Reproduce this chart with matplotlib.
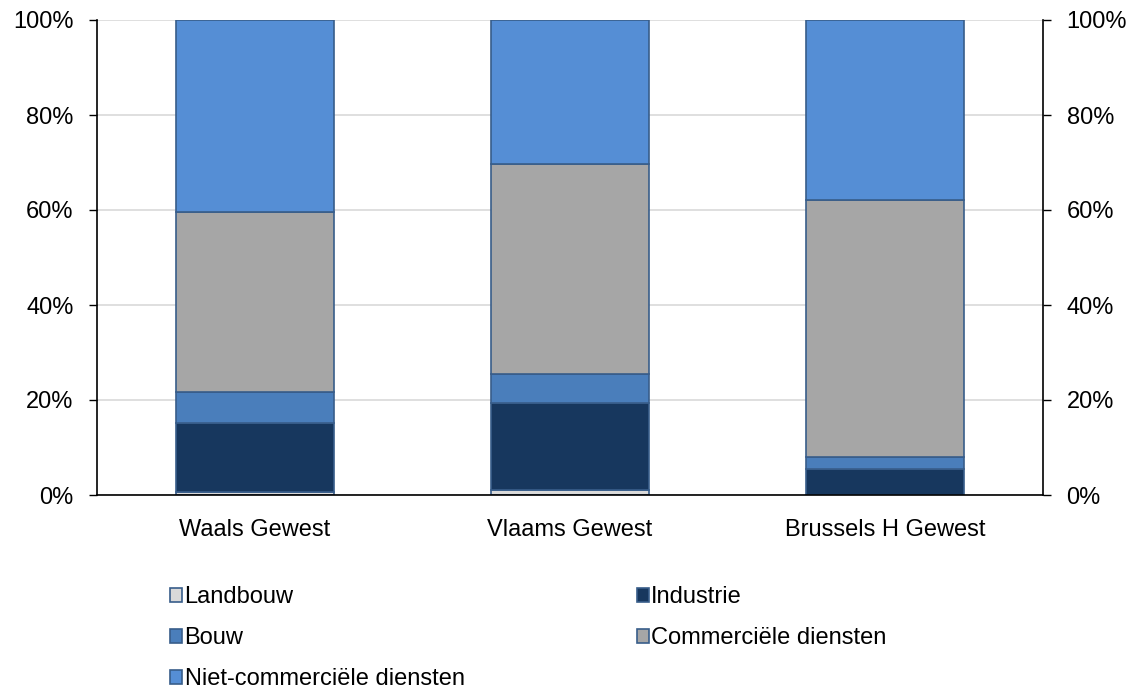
import matplotlib.pyplot as plt
import numpy as np

plt.rcParams['font.family'] = ['Liberation Sans', 'DejaVu Sans']

regions = ['Waals Gewest', 'Vlaams Gewest', 'Brussels H Gewest']
sectors = ['Landbouw', 'Industrie', 'Bouw', 'Commerciële diensten', 'Niet-commerciële diensten']
landbouw = [0.6, 1.0, 0.1]
industrie = [14.5, 18.4, 5.3]
bouw = [6.5, 6.1, 2.7]
commercieel = [38.0, 44.2, 54.0]
niet_commercieel = [40.4, 30.3, 37.9]

colors = ['#D9D9D9', '#17375E', '#4A7EBB', '#A6A6A6', '#558ED5']
series = [landbouw, industrie, bouw, commercieel, niet_commercieel]

fig = plt.figure(figsize=(11.39, 6.90), dpi=100)
ax = fig.add_axes([97/1139, 1 - 495/690, 946/1139, 475/690])

x = np.arange(len(regions))
bottom = np.zeros(len(regions))
for name, vals, c in zip(sectors, series, colors):
    ax.bar(x, vals, 0.5, bottom=bottom, color=c, edgecolor='#385D8A',
           linewidth=1.2, label=name, zorder=3)
    bottom += np.array(vals)

ax.set_xlim(-0.5, 2.5)
ax.set_ylim(0, 100)
ax.set_yticks(range(0, 101, 20))
ax.set_yticklabels([f'{v}%' for v in range(0, 101, 20)])
ax.set_xticks(x)
ax.set_xticklabels(regions)
ax.grid(axis='y', color='#D9D9D9', linewidth=1.2, zorder=0)
ax.tick_params(axis='x', length=0, labelsize=17, pad=17)
ax.tick_params(axis='y', length=6, direction='out', labelsize=17, width=1,
               pad=11, right=True, labelright=True)
ax.spines['top'].set_visible(False)
for s in ['left', 'right', 'bottom']:
    ax.spines[s].set_linewidth(1.2)
    ax.spines[s].set_color('black')
ax.spines['bottom'].set_zorder(4)

handles, labels = ax.get_legend_handles_labels()
order = [0, 2, 4, 1, 3]
fig.legend([handles[i] for i in order], [labels[i] for i in order],
           loc='upper left', bbox_to_anchor=(161/1139, 1 - 577/690),
           ncol=2, frameon=False, fontsize=17, handlelength=0.5,
           handleheight=0.55, handletextpad=0.1, columnspacing=7.3,
           labelspacing=0.8, borderaxespad=0)

fig.savefig('out.png', dpi=100)
